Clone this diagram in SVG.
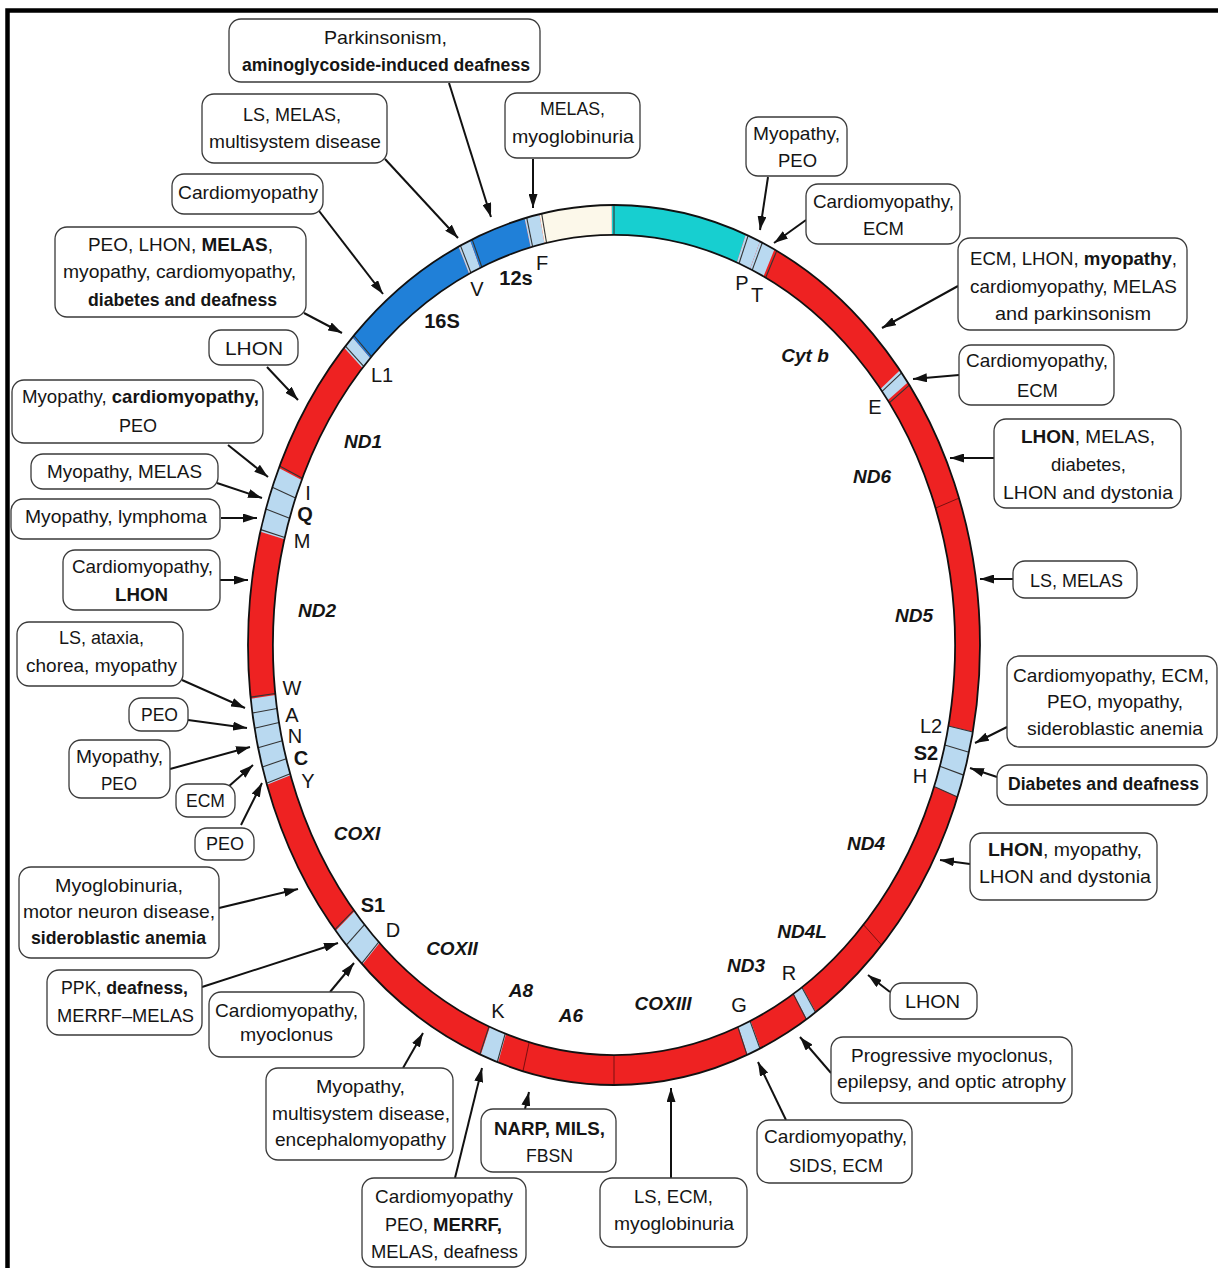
<svg xmlns="http://www.w3.org/2000/svg" width="1218" height="1268" viewBox="0 0 1218 1268">
<defs>
<style>
.box{fill:#fff;stroke:#3a3a3a;stroke-width:1.3}
.t{font-family:"Liberation Sans",Arial,sans-serif;font-size:19px;fill:#151515;text-anchor:middle}
.s{text-anchor:start}
.b{font-weight:bold}
.g{font-family:"Liberation Sans",Arial,sans-serif;font-size:19px;font-weight:bold;font-style:italic;fill:#151515;text-anchor:middle}
.l{font-family:"Liberation Sans",Arial,sans-serif;font-size:20px;fill:#151515;text-anchor:middle}
.lb{font-family:"Liberation Sans",Arial,sans-serif;font-size:20px;font-weight:bold;fill:#151515;text-anchor:middle}
.arr{stroke:#111;stroke-width:2;fill:none;marker-end:url(#ah)}
.seg{fill:none;stroke-width:6.8}
.red{stroke:#ee2222}
.cy{stroke:#17cfd0}
.cr{stroke:#fcf8ea}
.bl{stroke:#2080d8}
.tr{stroke:#b9d9f0}
.bd{stroke:#333;stroke-width:1.1;vector-effect:non-scaling-stroke}
.bdr{stroke:#7a1010;stroke-width:1;vector-effect:non-scaling-stroke}
.edge{fill:none;stroke:#111;stroke-width:1.8;vector-effect:non-scaling-stroke}
</style>
<marker id="ah" viewBox="0 0 14 9" refX="14" refY="4.5" markerWidth="14" markerHeight="9" markerUnits="userSpaceOnUse" orient="auto">
<path d="M0,0 L14,4.5 L0,9 Z" fill="#111"/>
</marker>
</defs>
<rect x="0" y="0" width="1218" height="1268" fill="#fff"/>
<path d="M7.5,1268 V10.5 H1218" fill="none" stroke="#000" stroke-width="4.5"/>

<g id="ring" transform="translate(614,645) scale(3.66,4.4)">
<circle class="seg red" r="96.6"/>
<circle class="seg cy" r="96.6" pathLength="360" stroke-dasharray="21.5 338.5" stroke-dashoffset="90"/>
<circle class="seg tr" r="96.6" pathLength="360" stroke-dasharray="2.4 357.6" stroke-dashoffset="68.5"/>
<circle class="seg tr" r="96.6" pathLength="360" stroke-dasharray="2.5 357.5" stroke-dashoffset="66.1"/>
<circle class="seg tr" r="96.6" pathLength="360" stroke-dasharray="2 358" stroke-dashoffset="38.2"/>
<circle class="seg tr" r="96.6" pathLength="360" stroke-dasharray="8.8 351.2" stroke-dashoffset="-11.4"/>
<circle class="seg tr" r="96.6" pathLength="360" stroke-dasharray="1.7 358.3" stroke-dashoffset="-56.6"/>
<circle class="seg tr" r="96.6" pathLength="360" stroke-dasharray="2.2 357.8" stroke-dashoffset="-66.5"/>
<circle class="seg tr" r="96.6" pathLength="360" stroke-dasharray="2.9 357.1" stroke-dashoffset="-108.6"/>
<circle class="seg tr" r="96.6" pathLength="360" stroke-dasharray="6.1 353.9" stroke-dashoffset="-133.6"/>
<circle class="seg tr" r="96.6" pathLength="360" stroke-dasharray="11.5 348.5" stroke-dashoffset="-161.7"/>
<circle class="seg tr" r="96.6" pathLength="360" stroke-dasharray="8.8 351.2" stroke-dashoffset="-195.2"/>
<circle class="seg tr" r="96.6" pathLength="360" stroke-dasharray="1.9 358.1" stroke-dashoffset="-222.8"/>
<circle class="seg bl" r="96.6" pathLength="360" stroke-dasharray="20.5 339.5" stroke-dashoffset="-224.7"/>
<circle class="seg tr" r="96.6" pathLength="360" stroke-dasharray="2 358" stroke-dashoffset="-245.2"/>
<circle class="seg bl" r="96.6" pathLength="360" stroke-dasharray="9 351" stroke-dashoffset="-247.2"/>
<circle class="seg tr" r="96.6" pathLength="360" stroke-dasharray="2.4 357.6" stroke-dashoffset="-256.2"/>
<circle class="seg cr" r="96.6" pathLength="360" stroke-dasharray="11.4 348.6" stroke-dashoffset="-258.6"/>
<g>
<line class="bd" x1="93.2" x2="100" transform="rotate(-90)"/>
<line class="bd" x1="93.2" x2="100" transform="rotate(-68.5)"/>
<line class="bd" x1="93.2" x2="100" transform="rotate(-66.1)"/>
<line class="bd" x1="93.2" x2="100" transform="rotate(-63.6)"/>
<line class="bd" x1="93.2" x2="100" transform="rotate(-38.2)"/>
<line class="bd" x1="93.2" x2="100" transform="rotate(-36.2)"/>
<line class="bdr" x1="93.2" x2="100" transform="rotate(-19.5)"/>
<line class="bd" x1="93.2" x2="100" transform="rotate(11.4)"/>
<line class="bd" x1="93.2" x2="100" transform="rotate(14.1)"/>
<line class="bd" x1="93.2" x2="100" transform="rotate(17.2)"/>
<line class="bd" x1="93.2" x2="100" transform="rotate(20.2)"/>
<line class="bdr" x1="93.2" x2="100" transform="rotate(43)"/>
<line class="bd" x1="93.2" x2="100" transform="rotate(56.6)"/>
<line class="bd" x1="93.2" x2="100" transform="rotate(58.3)"/>
<line class="bd" x1="93.2" x2="100" transform="rotate(66.5)"/>
<line class="bd" x1="93.2" x2="100" transform="rotate(68.7)"/>
<line class="bdr" x1="93.2" x2="100" transform="rotate(90)"/>
<line class="bdr" x1="93.2" x2="100" transform="rotate(104.4)"/>
<line class="bd" x1="93.2" x2="100" transform="rotate(108.6)"/>
<line class="bd" x1="93.2" x2="100" transform="rotate(111.5)"/>
<line class="bd" x1="93.2" x2="100" transform="rotate(133.6)"/>
<line class="bd" x1="93.2" x2="100" transform="rotate(137)"/>
<line class="bd" x1="93.2" x2="100" transform="rotate(139.7)"/>
<line class="bd" x1="93.2" x2="100" transform="rotate(161.7)"/>
<line class="bd" x1="93.2" x2="100" transform="rotate(163.9)"/>
<line class="bd" x1="93.2" x2="100" transform="rotate(166.5)"/>
<line class="bd" x1="93.2" x2="100" transform="rotate(169.1)"/>
<line class="bd" x1="93.2" x2="100" transform="rotate(171.1)"/>
<line class="bd" x1="93.2" x2="100" transform="rotate(173.2)"/>
<line class="bd" x1="93.2" x2="100" transform="rotate(195.2)"/>
<line class="bd" x1="93.2" x2="100" transform="rotate(198)"/>
<line class="bd" x1="93.2" x2="100" transform="rotate(201)"/>
<line class="bd" x1="93.2" x2="100" transform="rotate(204)"/>
<line class="bd" x1="93.2" x2="100" transform="rotate(222.8)"/>
<line class="bd" x1="93.2" x2="100" transform="rotate(224.7)"/>
<line class="bd" x1="93.2" x2="100" transform="rotate(245.2)"/>
<line class="bd" x1="93.2" x2="100" transform="rotate(247.2)"/>
<line class="bd" x1="93.2" x2="100" transform="rotate(256.2)"/>
<line class="bd" x1="93.2" x2="100" transform="rotate(258.6)"/>
</g>
<circle class="edge" r="100"/>
<circle class="edge" r="93.2"/>
</g>

<g id="ring-labels">
<text class="lb" x="442" y="328">16S</text>
<text class="lb" x="516" y="285">12s</text>
<text class="l" x="477" y="296">V</text>
<text class="l" x="542" y="270">F</text>
<text class="l" x="742" y="290">P</text>
<text class="l" x="757" y="302">T</text>
<text class="g" x="805" y="362">Cyt b</text>
<text class="l" x="875" y="414">E</text>
<text class="g" x="872" y="483">ND6</text>
<text class="g" x="914" y="622">ND5</text>
<text class="l" x="931" y="733">L2</text>
<text class="lb" x="926" y="760">S2</text>
<text class="l" x="920" y="783">H</text>
<text class="g" x="866" y="850">ND4</text>
<text class="g" x="802" y="938">ND4L</text>
<text class="g" x="746" y="972">ND3</text>
<text class="l" x="789" y="980">R</text>
<text class="l" x="739" y="1012">G</text>
<text class="g" x="663" y="1010">COXIII</text>
<text class="g" x="571" y="1022">A6</text>
<text class="g" x="521" y="997">A8</text>
<text class="l" x="498" y="1018">K</text>
<text class="g" x="452" y="955">COXII</text>
<text class="l" x="393" y="937">D</text>
<text class="lb" x="373" y="912">S1</text>
<text class="g" x="357" y="840">COXI</text>
<text class="l" x="308" y="788">Y</text>
<text class="lb" x="301" y="765">C</text>
<text class="l" x="295" y="743">N</text>
<text class="l" x="292" y="722">A</text>
<text class="l" x="292" y="695">W</text>
<text class="g" x="317" y="617">ND2</text>
<text class="l" x="302" y="548">M</text>
<text class="lb" x="305" y="521">Q</text>
<text class="l" x="308" y="500">I</text>
<text class="g" x="363" y="448">ND1</text>
<text class="l" x="382" y="382">L1</text>
</g>

<g id="connectors">
<line class="arr" x1="449" y1="83" x2="491" y2="217"/>
<line class="arr" x1="385" y1="159" x2="458" y2="238"/>
<line class="arr" x1="316" y1="207" x2="383" y2="294"/>
<line class="arr" x1="304" y1="313" x2="342" y2="333"/>
<line class="arr" x1="267" y1="367" x2="298" y2="400"/>
<line class="arr" x1="533" y1="159" x2="533" y2="208"/>
<line class="arr" x1="228" y1="445" x2="268" y2="477"/>
<line class="arr" x1="217" y1="483" x2="262" y2="498"/>
<line class="arr" x1="221" y1="518" x2="257" y2="518"/>
<line class="arr" x1="220" y1="580" x2="248" y2="580"/>
<line class="arr" x1="182" y1="680" x2="245" y2="708"/>
<line class="arr" x1="188" y1="720" x2="247" y2="728"/>
<line class="arr" x1="170" y1="769" x2="250" y2="747"/>
<line class="arr" x1="228" y1="787" x2="253" y2="765"/>
<line class="arr" x1="241" y1="825" x2="262" y2="783"/>
<line class="arr" x1="219" y1="908" x2="298" y2="889"/>
<line class="arr" x1="202" y1="987" x2="338" y2="943"/>
<line class="arr" x1="330" y1="992" x2="354" y2="963"/>
<line class="arr" x1="403" y1="1068" x2="423" y2="1033"/>
<line class="arr" x1="455" y1="1178" x2="482" y2="1068"/>
<line class="arr" x1="525" y1="1109" x2="529" y2="1092"/>
<line class="arr" x1="671" y1="1178" x2="671" y2="1088"/>
<line class="arr" x1="786" y1="1120" x2="758" y2="1062"/>
<line class="arr" x1="831" y1="1073" x2="800" y2="1037"/>
<line class="arr" x1="890" y1="992" x2="868" y2="975"/>
<line class="arr" x1="970" y1="864" x2="940" y2="860"/>
<line class="arr" x1="997" y1="777" x2="970" y2="768"/>
<line class="arr" x1="1007" y1="727" x2="975" y2="743"/>
<line class="arr" x1="1013" y1="579" x2="980" y2="579"/>
<line class="arr" x1="994" y1="458" x2="950" y2="458"/>
<line class="arr" x1="959" y1="375" x2="913" y2="379"/>
<line class="arr" x1="958" y1="286" x2="882" y2="328"/>
<line class="arr" x1="806" y1="220" x2="774" y2="243"/>
<line class="arr" x1="768" y1="177" x2="760" y2="230"/>
</g>

<g id="n-parkinsonism"><rect class="box" x="229" y="19" width="311" height="63" rx="12"/>
<text class="t" x="385.5" y="44" textLength="123" lengthAdjust="spacingAndGlyphs">Parkinsonism,</text>
<text class="t b" x="386" y="71" textLength="288" lengthAdjust="spacingAndGlyphs">aminoglycoside-induced deafness</text></g>

<g id="n-ls-melas-multi"><rect class="box" x="202" y="94" width="185" height="69" rx="12"/>
<text class="t" x="292" y="121" textLength="98" lengthAdjust="spacingAndGlyphs">LS, MELAS,</text>
<text class="t" x="295" y="148" textLength="172" lengthAdjust="spacingAndGlyphs">multisystem disease</text></g>

<g id="n-cardio-16s"><rect class="box" x="172" y="174" width="151" height="40" rx="12"/>
<text class="t" x="248" y="199" textLength="140" lengthAdjust="spacingAndGlyphs">Cardiomyopathy</text></g>

<g id="n-peo-lhon-melas"><rect class="box" x="55" y="227" width="251" height="90" rx="12"/>
<text class="t" x="180.5" y="251" textLength="185" lengthAdjust="spacingAndGlyphs">PEO, LHON, <tspan class="b">MELAS</tspan>,</text>
<text class="t" x="179.5" y="278" textLength="233" lengthAdjust="spacingAndGlyphs">myopathy, cardiomyopathy,</text>
<text class="t b" x="182.5" y="306" textLength="189" lengthAdjust="spacingAndGlyphs">diabetes and deafness</text></g>

<g id="n-lhon-nd1"><rect class="box" x="209" y="330" width="89" height="35" rx="12"/>
<text class="t" x="254" y="355" textLength="58" lengthAdjust="spacingAndGlyphs">LHON</text></g>

<g id="n-myo-cardio-peo"><rect class="box" x="12" y="380" width="251" height="63" rx="12"/>
<text class="t s" x="22" y="403" textLength="84.7" lengthAdjust="spacingAndGlyphs">Myopathy,</text>
<text class="t s b" x="111.8" y="403" textLength="147" lengthAdjust="spacingAndGlyphs">cardiomyopathy,</text>
<text class="t" x="138" y="432" textLength="38" lengthAdjust="spacingAndGlyphs">PEO</text></g>

<g id="n-myo-melas"><rect class="box" x="31" y="454" width="187" height="35" rx="12"/>
<text class="t" x="124.5" y="478" textLength="155" lengthAdjust="spacingAndGlyphs">Myopathy, MELAS</text></g>

<g id="n-myo-lymphoma"><rect class="box" x="11" y="499" width="209" height="40" rx="12"/>
<text class="t" x="116" y="523" textLength="182" lengthAdjust="spacingAndGlyphs">Myopathy, lymphoma</text></g>

<g id="n-cardio-lhon"><rect class="box" x="63" y="550" width="157" height="60" rx="12"/>
<text class="t" x="142.5" y="573" textLength="141" lengthAdjust="spacingAndGlyphs">Cardiomyopathy,</text>
<text class="t b" x="141.5" y="601" textLength="53" lengthAdjust="spacingAndGlyphs">LHON</text></g>

<g id="n-ls-ataxia"><rect class="box" x="17" y="622" width="166" height="64" rx="12"/>
<text class="t" x="101.5" y="644" textLength="85" lengthAdjust="spacingAndGlyphs">LS, ataxia,</text>
<text class="t" x="101.5" y="672" textLength="151" lengthAdjust="spacingAndGlyphs">chorea, myopathy</text></g>

<g id="n-peo-a"><rect class="box" x="129" y="698" width="59" height="33" rx="12"/>
<text class="t" x="159.5" y="721" textLength="37" lengthAdjust="spacingAndGlyphs">PEO</text></g>

<g id="n-myo-peo-n"><rect class="box" x="69" y="740" width="101" height="58" rx="12"/>
<text class="t" x="119.5" y="763" textLength="87" lengthAdjust="spacingAndGlyphs">Myopathy,</text>
<text class="t" x="119" y="790" textLength="36" lengthAdjust="spacingAndGlyphs">PEO</text></g>

<g id="n-ecm-c"><rect class="box" x="176" y="784" width="59" height="33" rx="12"/>
<text class="t" x="205.5" y="807" textLength="39" lengthAdjust="spacingAndGlyphs">ECM</text></g>

<g id="n-peo-y"><rect class="box" x="195" y="828" width="59" height="32" rx="12"/>
<text class="t" x="225" y="850" textLength="38" lengthAdjust="spacingAndGlyphs">PEO</text></g>

<g id="n-myoglobinuria-coxi"><rect class="box" x="19" y="867" width="200" height="91" rx="12"/>
<text class="t" x="119" y="892" textLength="128" lengthAdjust="spacingAndGlyphs">Myoglobinuria,</text>
<text class="t" x="119" y="918" textLength="192" lengthAdjust="spacingAndGlyphs">motor neuron disease,</text>
<text class="t b" x="118.5" y="944" textLength="175" lengthAdjust="spacingAndGlyphs">sideroblastic anemia</text></g>

<g id="n-ppk"><rect class="box" x="47" y="970" width="155" height="65" rx="12"/>
<text class="t s" x="61" y="994" textLength="40.4" lengthAdjust="spacingAndGlyphs">PPK,</text>
<text class="t s b" x="106.3" y="994" textLength="81.7" lengthAdjust="spacingAndGlyphs">deafness,</text>
<text class="t" x="125.5" y="1022" textLength="137" lengthAdjust="spacingAndGlyphs">MERRF–MELAS</text></g>

<g id="n-cardio-myoclonus"><rect class="box" x="209" y="992" width="155" height="65" rx="12"/>
<text class="t" x="286.5" y="1017" textLength="143" lengthAdjust="spacingAndGlyphs">Cardiomyopathy,</text>
<text class="t" x="286.5" y="1041" textLength="93" lengthAdjust="spacingAndGlyphs">myoclonus</text></g>

<g id="n-myo-multi-enc"><rect class="box" x="266" y="1068" width="187" height="92" rx="12"/>
<text class="t" x="360.5" y="1093" textLength="89" lengthAdjust="spacingAndGlyphs">Myopathy,</text>
<text class="t" x="361" y="1120" textLength="178" lengthAdjust="spacingAndGlyphs">multisystem disease,</text>
<text class="t" x="360.5" y="1146" textLength="171" lengthAdjust="spacingAndGlyphs">encephalomyopathy</text></g>

<g id="n-narp"><rect class="box" x="481" y="1109" width="135" height="63" rx="12"/>
<text class="t b" x="549.5" y="1135" textLength="111" lengthAdjust="spacingAndGlyphs">NARP, MILS,</text>
<text class="t" x="549.5" y="1162" textLength="47" lengthAdjust="spacingAndGlyphs">FBSN</text></g>

<g id="n-cardio-merrf"><rect class="box" x="362" y="1178" width="164" height="89" rx="12"/>
<text class="t" x="444" y="1203" textLength="138" lengthAdjust="spacingAndGlyphs">Cardiomyopathy</text>
<text class="t s" x="385" y="1231" textLength="43" lengthAdjust="spacingAndGlyphs">PEO,</text>
<text class="t s b" x="433" y="1231" textLength="69" lengthAdjust="spacingAndGlyphs">MERRF,</text>
<text class="t" x="444.5" y="1258" textLength="147" lengthAdjust="spacingAndGlyphs">MELAS, deafness</text></g>

<g id="n-ls-ecm-myoglob"><rect class="box" x="600" y="1178" width="147" height="69" rx="12"/>
<text class="t" x="673.5" y="1203" textLength="79" lengthAdjust="spacingAndGlyphs">LS, ECM,</text>
<text class="t" x="674" y="1230" textLength="120" lengthAdjust="spacingAndGlyphs">myoglobinuria</text></g>

<g id="n-cardio-sids"><rect class="box" x="757" y="1120" width="155" height="63" rx="12"/>
<text class="t" x="835.5" y="1143" textLength="143" lengthAdjust="spacingAndGlyphs">Cardiomyopathy,</text>
<text class="t" x="836" y="1172" textLength="94" lengthAdjust="spacingAndGlyphs">SIDS, ECM</text></g>

<g id="n-progressive"><rect class="box" x="831" y="1037" width="241" height="66" rx="12"/>
<text class="t" x="952" y="1062" textLength="202" lengthAdjust="spacingAndGlyphs">Progressive myoclonus,</text>
<text class="t" x="951.5" y="1088" textLength="229" lengthAdjust="spacingAndGlyphs">epilepsy, and optic atrophy</text></g>

<g id="n-lhon-nd4l"><rect class="box" x="890" y="983" width="87" height="36" rx="12"/>
<text class="t" x="932.5" y="1008" textLength="55" lengthAdjust="spacingAndGlyphs">LHON</text></g>

<g id="n-lhon-myo-dyst"><rect class="box" x="970" y="833" width="187" height="67" rx="12"/>
<text class="t" x="1065" y="856" textLength="154" lengthAdjust="spacingAndGlyphs"><tspan class="b">LHON</tspan>, myopathy,</text>
<text class="t" x="1065" y="883" textLength="172" lengthAdjust="spacingAndGlyphs">LHON and dystonia</text></g>

<g id="n-diabetes-deafness"><rect class="box" x="997" y="765" width="210" height="40" rx="12"/>
<text class="t b" x="1103.5" y="790" textLength="191" lengthAdjust="spacingAndGlyphs">Diabetes and deafness</text></g>

<g id="n-cardio-ecm-sidero"><rect class="box" x="1007" y="656" width="210" height="91" rx="12"/>
<text class="t" x="1111" y="682" textLength="196" lengthAdjust="spacingAndGlyphs">Cardiomyopathy, ECM,</text>
<text class="t" x="1115" y="708" textLength="136" lengthAdjust="spacingAndGlyphs">PEO, myopathy,</text>
<text class="t" x="1115" y="735" textLength="176" lengthAdjust="spacingAndGlyphs">sideroblastic anemia</text></g>

<g id="n-ls-melas-nd5"><rect class="box" x="1013" y="561" width="124" height="37" rx="12"/>
<text class="t" x="1076.5" y="587" textLength="93" lengthAdjust="spacingAndGlyphs">LS, MELAS</text></g>

<g id="n-lhon-melas-diab"><rect class="box" x="994" y="419" width="187" height="89" rx="12"/>
<text class="t" x="1088" y="443" textLength="134" lengthAdjust="spacingAndGlyphs"><tspan class="b">LHON</tspan>, MELAS,</text>
<text class="t" x="1088.5" y="471" textLength="75" lengthAdjust="spacingAndGlyphs">diabetes,</text>
<text class="t" x="1088" y="499" textLength="170" lengthAdjust="spacingAndGlyphs">LHON and dystonia</text></g>

<g id="n-cardio-ecm-e"><rect class="box" x="959" y="345" width="155" height="60" rx="12"/>
<text class="t" x="1037" y="367" textLength="142" lengthAdjust="spacingAndGlyphs">Cardiomyopathy,</text>
<text class="t" x="1037.5" y="397" textLength="41" lengthAdjust="spacingAndGlyphs">ECM</text></g>

<g id="n-ecm-lhon-myo"><rect class="box" x="958" y="238" width="229" height="92" rx="12"/>
<text class="t" x="1073.5" y="265" textLength="207" lengthAdjust="spacingAndGlyphs">ECM, LHON, <tspan class="b">myopathy</tspan>,</text>
<text class="t" x="1073.5" y="293" textLength="207" lengthAdjust="spacingAndGlyphs">cardiomyopathy, MELAS</text>
<text class="t" x="1073" y="320" textLength="156" lengthAdjust="spacingAndGlyphs">and parkinsonism</text></g>

<g id="n-cardio-ecm-t"><rect class="box" x="806" y="184" width="154" height="60" rx="12"/>
<text class="t" x="883.5" y="208" textLength="141" lengthAdjust="spacingAndGlyphs">Cardiomyopathy,</text>
<text class="t" x="883.5" y="235" textLength="41" lengthAdjust="spacingAndGlyphs">ECM</text></g>

<g id="n-myo-peo-p"><rect class="box" x="746" y="117" width="101" height="59" rx="12"/>
<text class="t" x="796.5" y="140" textLength="87" lengthAdjust="spacingAndGlyphs">Myopathy,</text>
<text class="t" x="797.5" y="167" textLength="39" lengthAdjust="spacingAndGlyphs">PEO</text></g>

<g id="n-melas-myoglob-f"><rect class="box" x="505" y="93" width="135" height="65" rx="12"/>
<text class="t" x="572.5" y="115" textLength="65" lengthAdjust="spacingAndGlyphs">MELAS,</text>
<text class="t" x="573" y="143" textLength="122" lengthAdjust="spacingAndGlyphs">myoglobinuria</text></g>
</svg>
